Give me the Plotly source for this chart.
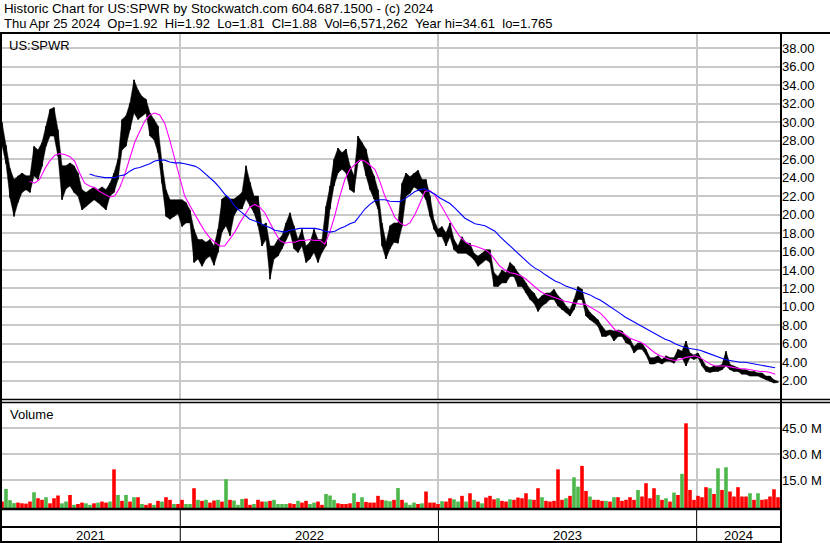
import pandas as pd
import plotly.graph_objects as go

# ---------------- data ----------------
TITLE_1 = "Historic Chart for US:SPWR by Stockwatch.com 604.687.1500 - (c) 2024"
TITLE_2 = "Thu Apr 25 2024  Op=1.92  Hi=1.92  Lo=1.81  Cl=1.88  Vol=6,571,262  Year hi=34.61  lo=1.765"
SYMBOL = "US:SPWR"
VOLUME_TITLE = "Volume"

FIRST_BAR = "2021-04-24"
LAST_BAR = "2024-04-25"

PRICE_HIGH = [
    30.0, 27.5, 25.0, 23.8, 24.2, 24.5, 24.2, 24.2, 27.4, 27.0,
    27.8, 29.6, 31.4, 31.6, 29.2, 25.3, 25.3, 25.6, 25.3, 24.5,
    22.7, 22.4, 22.7, 23.0, 22.7, 23.0, 22.7, 23.4, 24.5, 26.0,
    30.3, 30.7, 32.1, 34.6, 33.5, 32.8, 32.5, 31.0, 30.3, 29.6,
    25.6, 22.7, 21.6, 21.6, 21.6, 21.6, 21.3, 20.5, 18.4, 17.3,
    17.3, 17.0, 17.3, 16.6, 18.4, 21.7, 22.0, 21.7, 21.7, 22.0,
    22.4, 25.3, 23.5, 22.0, 22.0, 18.8, 19.1, 16.6, 16.6, 17.3,
    17.7, 19.1, 20.2, 18.8, 17.3, 18.4, 16.6, 17.0, 18.4, 17.3,
    17.3, 20.9, 23.1, 26.0, 27.2, 26.7, 27.1, 25.3, 24.2, 28.5,
    27.8, 27.1, 25.3, 24.2, 22.7, 19.1, 17.0, 18.8, 19.1, 19.1,
    23.4, 24.5, 24.1, 24.5, 24.8, 23.8, 23.8, 22.0, 19.4, 18.4,
    18.7, 18.0, 19.1, 17.3, 16.6, 17.6, 16.9, 16.9, 15.8, 15.5,
    15.8, 16.2, 16.2, 13.7, 13.3, 14.0, 13.7, 14.8, 14.4, 13.7,
    13.3, 12.6, 11.9, 11.5, 10.8, 11.2, 11.5, 11.5, 11.9, 11.2,
    10.8, 10.1, 9.7, 10.8, 12.2, 11.9, 10.1, 9.4, 9.0, 8.6,
    7.9, 7.4, 7.5, 7.4, 7.5, 7.4, 6.8, 6.5, 5.7, 6.1,
    6.1, 5.4, 4.5, 4.5, 4.7, 4.3, 4.7, 4.5, 4.5, 5.4,
    5.2, 6.3, 5.0, 4.8, 5.0, 4.3, 3.6, 3.4, 3.6, 3.6,
    3.75, 5.2, 3.75, 3.6, 3.4, 3.2, 3.2, 3.0, 3.0, 2.85,
    2.85, 2.5, 2.5, 2.1, 1.92,
]

PRICE_LOW = [
    27.5, 25.5, 21.8, 19.8, 21.3, 22.4, 22.7, 22.4, 24.2, 23.8,
    25.2, 27.4, 28.5, 28.5, 26.3, 21.6, 22.8, 23.1, 22.4, 22.0,
    20.5, 20.9, 21.3, 21.6, 21.3, 20.9, 20.5, 22.0, 22.4, 23.8,
    27.0, 27.4, 29.2, 31.0, 30.3, 30.7, 31.0, 28.5, 28.1, 26.7,
    23.4, 19.8, 19.5, 19.8, 20.1, 18.7, 19.1, 19.1, 14.8, 15.2,
    14.4, 15.2, 15.5, 14.5, 15.9, 18.1, 18.8, 17.7, 19.9, 20.6,
    20.6, 21.7, 20.9, 20.2, 18.8, 16.6, 17.3, 13.0, 15.2, 15.5,
    16.3, 17.3, 18.1, 16.3, 15.9, 16.6, 14.8, 15.2, 15.9, 14.8,
    15.9, 16.6, 20.6, 23.1, 24.5, 24.9, 24.5, 22.7, 22.4, 25.6,
    26.0, 24.2, 22.7, 21.7, 20.6, 16.6, 15.2, 16.3, 17.0, 16.9,
    18.7, 22.0, 22.3, 23.0, 22.7, 22.3, 21.6, 19.8, 18.4, 17.6,
    17.6, 16.6, 17.6, 16.2, 15.8, 15.8, 15.8, 15.5, 15.1, 14.4,
    14.8, 15.1, 14.8, 12.2, 12.2, 12.6, 12.6, 13.3, 13.3, 12.2,
    12.2, 11.5, 10.8, 10.4, 9.5, 10.1, 10.4, 10.8, 10.8, 10.1,
    9.7, 9.4, 9.0, 9.7, 10.8, 10.8, 9.0, 8.6, 8.3, 7.9,
    6.8, 6.8, 7.0, 6.3, 6.8, 6.8, 6.1, 5.9, 5.0, 5.4,
    5.4, 4.8, 3.8, 3.8, 4.0, 3.8, 4.1, 4.1, 3.9, 4.5,
    4.5, 3.6, 4.5, 4.3, 4.5, 3.6, 3.0, 2.9, 3.0, 3.0,
    3.2, 3.6, 3.2, 3.0, 3.0, 2.7, 2.7, 2.5, 2.5, 2.5,
    2.3, 2.1, 1.95, 1.75, 1.81,
]

VOLUME_M = [
    2.7, 10.0, 3.5, 1.8, 2.1, 1.7, 1.5, 2.7, 8.1, 4.6,
    3.7, 5.2, 1.7, 4.6, 6.2, 1.7, 2.7, 6.5, 0.8, 1.3,
    2.1, 1.7, 0.8, 1.7, 2.1, 2.7, 2.1, 2.7, 21.3, 6.5,
    3.1, 6.5, 2.7, 5.2, 5.2, 1.3, 0.8, 1.7, 0.8, 3.1,
    2.7, 5.2, 3.7, 1.3, 1.3, 3.7, 1.3, 1.3, 10.4, 3.7,
    3.1, 3.7, 2.1, 3.3, 3.7, 2.7, 15.6, 3.7, 3.3, 0.8,
    4.2, 4.4, 0.8, 1.3, 3.7, 2.7, 2.7, 3.1, 3.7, 1.3,
    1.3, 1.3, 1.7, 1.3, 3.1, 2.1, 3.1, 1.3, 2.1, 2.7,
    0.8, 7.1, 6.2, 3.7, 1.7, 1.3, 1.3, 1.7, 7.5, 2.5,
    5.2, 2.5, 2.1, 2.1, 6.0, 3.7, 3.3, 2.9, 3.7, 10.5,
    3.7, 2.1, 0.8, 2.1, 1.3, 1.7, 8.5, 2.1, 2.1, 1.3,
    2.9, 2.7, 4.6, 4.0, 2.7, 6.0, 2.7, 7.5, 3.7, 2.7,
    1.7, 5.0, 6.0, 4.0, 4.6, 3.1, 2.7, 4.0, 3.7, 5.0,
    4.6, 7.5, 4.0, 3.7, 10.4, 5.2, 3.1, 2.7, 3.1, 21.3,
    3.7, 4.6, 6.0, 16.7, 11.3, 23.3, 8.8, 5.6, 3.7, 3.7,
    3.1, 3.1, 2.7, 5.2, 5.2, 3.1, 3.7, 5.2, 3.7, 9.4,
    5.6, 13.3, 4.6, 10.4, 6.5, 3.7, 4.6, 2.7, 7.9, 6.5,
    18.7, 47.9, 9.4, 3.7, 6.0, 5.2, 11.0, 10.4, 7.1, 21.9,
    9.4, 22.5, 8.5, 5.6, 11.0, 5.6, 5.6, 7.5, 3.7, 7.5,
    3.7, 4.0, 5.6, 9.8, 5.2,
]

# r = down day, g = up day
VOLUME_DIR = list(
    "rgggrrrrgr" "rgrrrggrgr" "rggrgrrgrg" "rgrgrgrrgr" "grrgrrggrg"
    "rgrrgrgrgg" "grrgrrgrgg" "ggrrgrrggr" "rgggrrrrgr" "grrrrrggrg"
    "rgggrgrrrr" "grrggrgrgr" "grrrgrrgrr" "rrgrrgrrrr" "rgrggrrgrr"
    "rgrgrrrrrg" "rrrrgrgrgr" "grrrrrrgrg" "rgrrrrrgrg" "rrrrr"
)

MA_SHORT_START = "2021-06-02"
MA_SHORT_END = "2024-04-21"
MA_SHORT = [
    23.6, 23.4, 23.8, 24.9, 25.8, 26.4, 26.6, 26.5, 26.3, 25.8,
    24.5, 23.4, 23.1, 22.9, 22.5, 22.2, 21.9, 22.0, 22.9, 24.3,
    26.0, 27.8, 29.0, 30.1, 30.8, 31.0, 30.8, 29.9, 28.1, 26.0,
    23.8, 22.0, 21.0, 20.0, 19.1, 18.2, 17.5, 17.0, 16.6, 16.6,
    17.3, 18.1, 19.1, 20.0, 20.8, 21.1, 20.8, 20.2, 19.1, 18.1,
    17.2, 16.9, 17.0, 17.0, 17.2, 17.2, 17.3, 17.2, 17.2, 16.8,
    18.1, 19.9, 22.0, 23.8, 24.9, 25.4, 25.9, 25.8, 25.4, 24.9,
    23.6, 22.0, 20.9, 19.7, 19.1, 18.8, 19.1, 20.0, 21.2, 22.5,
    22.6, 22.1, 21.2, 20.2, 19.3, 18.4, 17.6, 17.1, 16.7, 16.6,
    16.4, 16.2, 15.8, 15.1, 14.4, 14.0, 13.7, 13.6, 13.4, 13.1,
    12.6, 12.1, 11.7, 11.4, 11.2, 11.0, 10.8, 10.6, 10.5, 10.4,
    10.3, 10.3, 10.0, 9.65, 9.35, 8.8, 8.1, 7.5, 7.3, 7.0,
    6.6, 6.4, 6.2, 5.9, 5.4, 5.0, 4.7, 4.5, 4.3, 4.2,
    4.3, 4.5, 4.6, 4.7, 4.5, 4.1, 3.8, 3.6, 3.6, 3.6,
    3.5, 3.4, 3.3, 3.3, 3.2, 3.1, 3.0, 3.0, 2.9, 2.7,
]

MA_LONG_START = "2021-08-26"
MA_LONG_END = "2024-04-21"
MA_LONG = [
    24.4, 24.2, 24.1, 24.0, 24.0, 24.0, 24.2, 24.3, 24.7, 25.0,
    25.1, 25.3, 25.5, 25.8, 25.9, 25.9, 25.7, 25.6, 25.6, 25.5,
    25.4, 25.25, 24.95, 24.5, 24.0, 23.5, 22.9, 22.2, 21.7, 20.9,
    20.4, 19.9, 19.5, 19.3, 19.1, 18.8, 18.6, 18.3, 18.2, 18.1,
    18.3, 18.4, 18.5, 18.5, 18.5, 18.5, 18.4, 18.2, 18.1, 18.2,
    18.5, 18.7, 19.0, 19.2, 19.9, 20.6, 21.1, 21.5, 21.6, 21.6,
    21.45, 21.4, 21.4, 21.7, 22.1, 22.5, 22.7, 22.8, 22.5, 22.2,
    21.8, 21.5, 21.2, 20.7, 20.2, 19.6, 19.3, 19.0, 18.9, 18.8,
    18.5, 18.2, 17.6, 17.1, 16.6, 16.0, 15.5, 15.0, 14.6, 14.2,
    13.9, 13.5, 13.1, 12.8, 12.6, 12.3, 12.1, 11.9, 11.7, 11.5,
    11.3, 11.0, 10.75, 10.4, 10.0, 9.6, 9.3, 8.9, 8.6, 8.3,
    8.0, 7.7, 7.4, 7.1, 6.8, 6.5, 6.3, 6.0, 5.8, 5.6,
    5.5, 5.4, 5.3, 5.1, 4.9, 4.7, 4.5, 4.3, 4.2, 4.1,
    4.0, 4.0, 3.9, 3.8, 3.7, 3.6, 3.5, 3.4,
]

PRICE_TICKS = [2, 4, 6, 8, 10, 12, 14, 16, 18, 20, 22, 24, 26, 28, 30, 32, 34, 36, 38]
VOLUME_TICKS = [15, 30, 45]
YEAR_BREAKS = ["2022-01-01", "2023-01-01", "2024-01-01"]
YEAR_LABELS = ["2021", "2022", "2023", "2024"]

# ---------------- layout constants ----------------
W, H = 830, 543
X_MIN = "2021-04-21 04:00"
X_MAX = "2024-04-29 06:00"
PRICE_RANGE = [0.02, 39.67]
VOL_RANGE = [-1.6, 60.2]
FONT = "Liberation Sans, Arial, sans-serif"
GRID = "#c8c8c8"
RED = "#ff0000"
GREEN = "#4cb84c"


def fx(px):
    return px / W


def fy(py):
    return 1 - py / H


bar_dates = pd.date_range(FIRST_BAR, LAST_BAR, periods=len(PRICE_HIGH))
ma_s_dates = pd.date_range(MA_SHORT_START, MA_SHORT_END, periods=len(MA_SHORT))
ma_l_dates = pd.date_range(MA_LONG_START, MA_LONG_END, periods=len(MA_LONG))

seg_x, seg_y = [], []
for d, lo, hi in zip(bar_dates, PRICE_LOW, PRICE_HIGH):
    seg_x += [d, d, None]
    seg_y += [lo, hi, None]

vol_colors = [GREEN if c == "g" else RED for c in VOLUME_DIR]

fig = go.Figure()
# price band (low .. high envelope) plus daily-range strokes
fig.add_trace(go.Scatter(x=bar_dates, y=PRICE_LOW, mode="lines",
                         line=dict(color="black", width=0.5), xaxis="x", yaxis="y",
                         hoverinfo="skip"))
fig.add_trace(go.Scatter(x=bar_dates, y=PRICE_HIGH, mode="lines", fill="tonexty",
                         fillcolor="black", line=dict(color="black", width=0.5),
                         xaxis="x", yaxis="y", hoverinfo="skip"))
fig.add_trace(go.Scatter(x=seg_x, y=seg_y, mode="lines",
                         line=dict(color="black", width=1.5), xaxis="x", yaxis="y",
                         hoverinfo="skip"))
fig.add_trace(go.Scatter(x=ma_s_dates, y=MA_SHORT, mode="lines",
                         line=dict(color="#ff00ff", width=1.1), xaxis="x", yaxis="y"))
fig.add_trace(go.Scatter(x=ma_l_dates, y=MA_LONG, mode="lines",
                         line=dict(color="#0000ff", width=1.1), xaxis="x", yaxis="y"))
fig.add_trace(go.Bar(x=bar_dates, y=[v - VOL_RANGE[0] for v in VOLUME_M],
                     base=VOL_RANGE[0], marker=dict(color=vol_colors, line=dict(width=0)),
                     xaxis="x", yaxis="y2"))

tickfont = dict(family=FONT, size=13, color="black")
fig.update_layout(
    width=W, height=H, margin=dict(l=0, r=0, t=0, b=0),
    paper_bgcolor="white", plot_bgcolor="white", showlegend=False, bargap=0.1,
    xaxis=dict(type="date", domain=[0, fx(781)], range=[X_MIN, X_MAX], anchor="y2",
               tickvals=YEAR_BREAKS, showticklabels=False, ticks="",
               showgrid=True, gridcolor=GRID, gridwidth=1.5, zeroline=False, showline=False),
    yaxis=dict(domain=[fy(399), fy(33)], range=PRICE_RANGE, side="right", anchor="x",
               tickvals=PRICE_TICKS, tickformat=".2f", ticks="", tickfont=tickfont,
               showgrid=True, gridcolor=GRID, gridwidth=1.5, zeroline=False, showline=False),
    yaxis2=dict(domain=[fy(509), fy(402)], range=VOL_RANGE, side="right", anchor="x",
                tickvals=VOLUME_TICKS, ticktext=[f"{v:.1f} M" for v in VOLUME_TICKS],
                ticks="", tickfont=tickfont,
                showgrid=True, gridcolor=GRID, gridwidth=1.5, zeroline=False, showline=False),
)

ann = []
ann.append(dict(text=TITLE_1, x=fx(2), y=fy(8.5), xref="paper", yref="paper",
                xanchor="left", yanchor="middle", showarrow=False,
                font=dict(family=FONT, size=13.3, color="black")))
ann.append(dict(text=TITLE_2.replace("  ", "\u00a0\u00a0"), x=fx(2), y=fy(23), xref="paper",
                yref="paper", xanchor="left", yanchor="middle", showarrow=False,
                font=dict(family=FONT, size=13, color="black")))
ann.append(dict(text=SYMBOL, x=fx(7), y=fy(45), xref="paper", yref="paper",
                xanchor="left", yanchor="middle", showarrow=False,
                font=dict(family=FONT, size=13, color="black")))
ann.append(dict(text=VOLUME_TITLE, x=fx(8), y=fy(414), xref="paper", yref="paper",
                xanchor="left", yanchor="middle", showarrow=False,
                font=dict(family=FONT, size=13, color="black")))

bounds = [pd.Timestamp(X_MIN)] + [pd.Timestamp(b) for b in YEAR_BREAKS] + [pd.Timestamp(X_MAX)]
for lab, a, b in zip(YEAR_LABELS, bounds[:-1], bounds[1:]):
    ann.append(dict(text=lab, x=a + (b - a) / 2, y=fy(535), xref="x", yref="paper",
                    xanchor="center", yanchor="middle", showarrow=False,
                    font=dict(family=FONT, size=13, color="black")))
fig.update_layout(annotations=ann)

shapes = []


def hline(py, x0, x1, w):
    shapes.append(dict(type="line", xref="paper", yref="paper", x0=fx(x0), x1=fx(x1),
                       y0=fy(py), y1=fy(py), line=dict(color="black", width=w)))


def vline(px, y0, y1, w):
    shapes.append(dict(type="line", xref="paper", yref="paper", x0=fx(px), x1=fx(px),
                       y0=fy(y0), y1=fy(y1), line=dict(color="black", width=w)))


hline(33, 0, 830, 2)
hline(399.5, 0, 830, 1.5)
hline(402.5, 0, 830, 1.5)
hline(509, 0, 782, 2.5)
hline(527, 0, 782, 2)
hline(542, 0, 782, 2)
vline(1, 33, 543, 2)
vline(781, 33, 543, 2)
for b in YEAR_BREAKS:
    shapes.append(dict(type="line", xref="x", yref="paper", x0=b, x1=b,
                       y0=fy(542), y1=fy(509), line=dict(color="black", width=1)))
fig.update_layout(shapes=shapes)

fig.write_html(
    "out.html",
    config={"displayModeBar": False},
    post_script="document.body.style.margin='0';document.body.style.overflow='hidden';",
)
